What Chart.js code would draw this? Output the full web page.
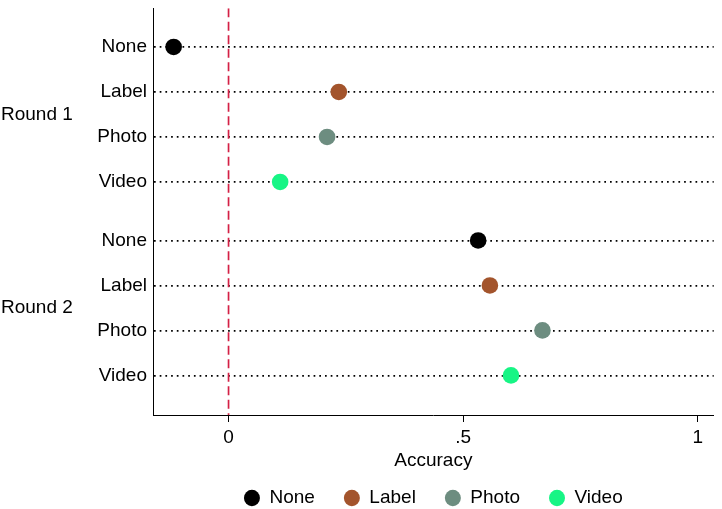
<!DOCTYPE html>
<html>
<head>
<meta charset="utf-8">
<script src="https://cdn.jsdelivr.net/npm/chart.js@4.4.1/dist/chart.umd.min.js"></script>
<style>
    html, body { margin: 0; padding: 0; background: #fff; }
    #wrap { width: 722px; height: 509px; }
</style>
</head>
<body>
<div id="wrap"><canvas id="dotChart"></canvas></div>
<script>
// Données
const rounds = ['Round 1', 'Round 2'];
const conditions = ['None', 'Label', 'Photo', 'Video'];
const accNone  = [-0.117, 0.532];
const accLabel = [0.235, 0.557];
const accPhoto = [0.210, 0.669];
const accVideo = [0.110, 0.602];
const xTicks = [0, 0.5, 1];
const xTickLabels = ['0', '.5', '1'];
const refLine = 0;

const colors = ['#000000', '#a3542c', '#6d8d80', '#17f585'];
const series = [accNone, accLabel, accPhoto, accVideo];
const FONT = "'Liberation Sans', Arial, Helvetica, sans-serif";
const FS = 19;

// position verticale de chaque ligne : un petit écart entre les deux rounds
const groupGap = 0.3;
const rowPos = (g, c) => 1 + g * (conditions.length + groupGap) + c;
const yTicks = [];
const yTickLabels = {};
rounds.forEach((r, g) => conditions.forEach((c, i) => {
    yTicks.push(rowPos(g, i));
    yTickLabels[rowPos(g, i)] = c;
}));
const yMin = 0.14, yMax = 9.18;

document.addEventListener('DOMContentLoaded', () => {
    const datasets = conditions.map((c, i) => ({
        type: 'scatter',
        label: c,
        data: rounds.map((r, g) => ({ x: series[i][g], y: rowPos(g, i) })),
        backgroundColor: colors[i],
        borderWidth: 0,
        pointRadius: 8.3,
        pointHoverRadius: 8.3,
        order: 1
    }));

    // ligne de référence rouge en pointillés
    datasets.push({
        type: 'line',
        label: '',
        data: [{ x: refLine, y: yMin }, { x: refLine, y: yMax }],
        borderColor: '#d42045',
        borderWidth: 1.7,
        borderDash: [9, 4.5],
        pointRadius: 0,
        order: 10
    });

    // étiquettes "Round 1" / "Round 2" à gauche
    const groupLabels = {
        id: 'groupLabels',
        afterDraw(chart) {
            const ctx = chart.ctx;
            const y = chart.scales.y;
            ctx.save();
            ctx.font = FS + 'px ' + FONT;
            ctx.fillStyle = '#000';
            ctx.textAlign = 'left';
            ctx.textBaseline = 'middle';
            rounds.forEach((r, g) => {
                const mid = (rowPos(g, 0) + rowPos(g, conditions.length - 1)) / 2;
                ctx.fillText(r, 1, y.getPixelForValue(mid));
            });
            ctx.restore();
        }
    };

    new Chart(document.getElementById('dotChart'), {
        data: { datasets },
        plugins: [groupLabels],
        options: {
            responsive: true,
            maintainAspectRatio: false,
            animation: false,
            layout: { padding: { left: 0, right: 4, top: 0, bottom: -8.5 } },
            plugins: {
                tooltip: { enabled: false },
                legend: {
                    position: 'bottom',
                    fullSize: false,
                    labels: {
                        filter: item => item.text !== '',
                        usePointStyle: true,
                        pointStyle: 'circle',
                        pointStyleWidth: 16,
                        boxHeight: 11.5,
                        padding: 29,
                        color: '#000',
                        font: { family: FONT, size: FS }
                    }
                }
            },
            scales: {
                x: {
                    type: 'linear',
                    min: -0.161,
                    max: 1.034,
                    afterBuildTicks: s => { s.ticks = xTicks.map(v => ({ value: v })); },
                    afterFit: s => { s.paddingLeft = 0; s.paddingRight = 0; },
                    ticks: {
                        padding: 4,
                        color: '#000',
                        font: { family: FONT, size: FS },
                        callback: v => xTickLabels[xTicks.indexOf(v)]
                    },
                    grid: { drawOnChartArea: false, drawTicks: true, tickLength: 7, color: '#000' },
                    border: { color: '#000', width: 1 },
                    title: {
                        display: true,
                        text: 'Accuracy',
                        color: '#000',
                        padding: { top: -3.2, bottom: -12.9 },
                        font: { family: FONT, size: FS }
                    }
                },
                y: {
                    type: 'linear',
                    reverse: true,
                    min: yMin,
                    max: yMax,
                    afterBuildTicks: s => { s.ticks = yTicks.map(v => ({ value: v })); },
                    afterFit: s => { s.width = 153; s.paddingTop = 0; s.paddingBottom = 0; },
                    ticks: {
                        padding: 6,
                        color: '#000',
                        font: { family: FONT, size: FS },
                        callback: v => yTickLabels[v]
                    },
                    grid: {
                        drawTicks: false,
                        color: '#000',
                        lineWidth: 1.7
                    },
                    border: { color: '#000', width: 1, dash: [1.7, 4] }
                }
            }
        }
    });
});
</script>
</body>
</html>
